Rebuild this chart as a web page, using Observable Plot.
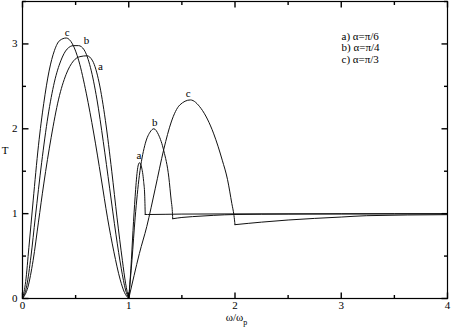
<!DOCTYPE html>
<html><head><meta charset="utf-8">
<script src="https://cdn.jsdelivr.net/npm/d3@7"></script>
<script src="https://cdn.jsdelivr.net/npm/@observablehq/plot@0.6"></script>
<style>body{margin:0;background:#fff}#chart svg, #chart svg text{font-family:"Liberation Serif","DejaVu Serif","Times New Roman",serif}</style>
</head><body><div id="chart"></div>
<script>
// ---- data ----
const xTickLabels = [0, 1, 2, 3, 4];
const yTickLabels = [0, 1, 2, 3];
const xMajor = [0, 1, 2, 3, 4];
const xMinor = [0.5, 1.5, 2.5, 3.5];
const yMajor = [0, 1, 2, 3];
const yMinor = [0.5, 1.5, 2.5, 3.5];
const legendLabels = ["a) α=π/6", "b) α=π/4", "c) α=π/3"];

// curve a (alpha = pi/6)
const aOmega = [0, 0.05, 0.1, 0.15, 0.2, 0.27, 0.34, 0.41, 0.48, 0.54, 0.607, 0.66, 0.72, 0.78, 0.84, 0.89, 0.94, 0.97, 1.0,
                1.0, 1.02, 1.04, 1.06, 1.08, 1.10, 1.12, 1.14, 1.15, 1.155,
                1.155, 1.2, 1.5, 2, 3, 4];
const aT     = [0, 0.13, 0.45, 0.9, 1.35, 1.9, 2.35, 2.64, 2.8, 2.85, 2.86, 2.8, 2.55, 2.1, 1.5, 0.95, 0.45, 0.18, 0,
                0, 0.35, 0.8, 1.2, 1.5, 1.60, 1.55, 1.38, 1.22, 0.99,
                0.99, 0.99, 0.995, 0.997, 0.998, 0.999];
const aSeg   = [1,1,1,1,1,1,1,1,1,1,1,1,1,1,1,1,1,1,1, 2,2,2,2,2,2,2,2,2,2, 3,3,3,3,3,3];

// curve b (alpha = pi/4)
const bOmega = [0, 0.04, 0.08, 0.12, 0.18, 0.24, 0.3, 0.36, 0.42, 0.48, 0.528, 0.58, 0.64, 0.7, 0.76, 0.82, 0.88, 0.93, 0.97, 1.0,
                1.0, 1.03, 1.06, 1.1, 1.15, 1.2, 1.236, 1.28, 1.33, 1.377, 1.40, 1.409, 1.414,
                1.414, 1.5, 1.6, 1.8, 2.0, 2.5, 3, 4];
const bT     = [0, 0.15, 0.5, 0.95, 1.6, 2.15, 2.55, 2.8, 2.94, 2.98, 2.98, 2.93, 2.72, 2.35, 1.85, 1.3, 0.75, 0.35, 0.1, 0,
                0, 0.45, 0.95, 1.45, 1.8, 1.96, 2.0, 1.93, 1.74, 1.43, 1.15, 1.05, 0.94,
                0.94, 0.955, 0.965, 0.98, 0.99, 0.995, 0.997, 0.998];
const bSeg   = [1,1,1,1,1,1,1,1,1,1,1,1,1,1,1,1,1,1,1,1, 2,2,2,2,2,2,2,2,2,2,2,2,2, 3,3,3,3,3,3,3,3];

// curve c (alpha = pi/3)
const cOmega = [0, 0.03, 0.06, 0.1, 0.15, 0.2, 0.25, 0.3, 0.35, 0.412, 0.47, 0.53, 0.6, 0.67, 0.74, 0.8, 0.86, 0.92, 0.96, 1.0,
                1.0, 1.05, 1.1, 1.17, 1.25, 1.33, 1.4, 1.48, 1.58, 1.68, 1.8, 1.88, 1.93, 1.97, 1.99, 2.0,
                2.0, 2.25, 2.5, 3.0, 3.24, 4];
const cT     = [0, 0.2, 0.6, 1.15, 1.8, 2.3, 2.68, 2.92, 3.04, 3.07, 3.0, 2.8, 2.42, 1.95, 1.42, 0.95, 0.55, 0.22, 0.07, 0,
                0, 0.27, 0.53, 0.85, 1.3, 1.76, 2.08, 2.28, 2.34, 2.24, 1.94, 1.63, 1.40, 1.12, 0.98, 0.87,
                0.87, 0.9, 0.925, 0.96, 0.976, 0.988];
const cSeg   = [1,1,1,1,1,1,1,1,1,1,1,1,1,1,1,1,1,1,1,1, 2,2,2,2,2,2,2,2,2,2,2,2,2,2,2,2, 3,3,3,3,3,3];

// curve-label anchors (omega, T)
const curveLabelText = ["c", "b", "a", "a", "b", "c"];
const curveLabelOmega = [0.421, 0.602, 0.734, 1.095, 1.245, 1.56];
const curveLabelT = [3.13, 3.04, 2.74, 1.69, 2.07, 2.415];

// ---- build tables ----
function rows(name, Ws, Ts, Ss) { return Ws.map((w, i) => ({series: name, key: name + Ss[i], w, t: Ts[i]})); }
const data = [...rows("a", aOmega, aT, aSeg), ...rows("b", bOmega, bT, bSeg), ...rows("c", cOmega, cT, cSeg)];
const labels = curveLabelText.map((s, i) => ({s, w: curveLabelOmega[i], t: curveLabelT[i]}));

const WIDTH = 451, HEIGHT = 331, mL = 22, mR = 4, mT = 1, mB = 33;
const plotW = WIDTH - mL - mR, plotH = HEIGHT - mT - mB;
const xMax = 4, yMax = 3.5;
const major = 6, minor = 3.5;
const dxMaj = major * xMax / plotW, dxMin = minor * xMax / plotW;
const dyMaj = major * yMax / plotH, dyMin = minor * yMax / plotH;
const font = "'Liberation Serif','DejaVu Serif','Times New Roman',serif";

// inward tick segments on all four sides, from the tick arrays
const tickSegs = [
  ...xMajor.map(v => ({x1: v, x2: v, y1: 0, y2: dyMaj})),
  ...xMinor.map(v => ({x1: v, x2: v, y1: 0, y2: dyMin})),
  ...xMajor.map(v => ({x1: v, x2: v, y1: yMax, y2: yMax - dyMaj})),
  ...xMinor.map(v => ({x1: v, x2: v, y1: yMax, y2: yMax - dyMin})),
  ...yMajor.map(v => ({x1: 0, x2: dxMaj, y1: v, y2: v})),
  ...yMinor.map(v => ({x1: 0, x2: dxMin, y1: v, y2: v})),
  ...yMajor.map(v => ({x1: xMax, x2: xMax - dxMaj, y1: v, y2: v})),
  ...yMinor.map(v => ({x1: xMax, x2: xMax - dxMin, y1: v, y2: v}))
];

const chart = Plot.plot({
  width: WIDTH, height: HEIGHT,
  marginLeft: mL, marginRight: mR, marginTop: mT, marginBottom: mB,
  style: {fontFamily: font, fontSize: "11px", background: "#fff", color: "#000"},
  x: {domain: [0, xMax], axis: null},
  y: {domain: [0, yMax], axis: null},
  marks: [
    Plot.line(data, {x: "w", y: "t", z: "key", curve: "monotone-x", stroke: "#111", strokeWidth: 1}),
    Plot.text(labels, {x: "w", y: "t", text: "s", fontSize: 11, fill: "#000"}),
    Plot.frame({stroke: "#000", strokeWidth: 1.2}),
    Plot.link(tickSegs, {x1: "x1", x2: "x2", y1: "y1", y2: "y2", stroke: "#000", strokeWidth: 1.4}),
    Plot.axisX(xTickLabels, {tickSize: 0, tickPadding: 3, fontSize: 11, label: null, tickFormat: d => String(d)}),
    Plot.axisY(yTickLabels, {tickSize: 0, tickPadding: 5, fontSize: 11, label: null, tickFormat: d => String(d)}),
    Plot.text([legendLabels.join("\n")], {frameAnchor: "top-right", dx: -106, dy: 30, textAnchor: "start", lineAnchor: "top", lineHeight: 1.05, fontSize: 11, fill: "#000"})
  ]
});
document.getElementById("chart").appendChild(chart);

// axis titles (T and omega/omega_p with subscript)
const svg = d3.select(chart);
svg.append("text").attr("x", 5).attr("y", mT + plotH / 2 + 4).attr("text-anchor", "middle")
  .attr("font-size", 11).style("font-family", font).text("T");
const xl = svg.append("text").attr("x", mL + plotW / 2 + 2).attr("y", 321).attr("text-anchor", "middle")
  .attr("font-size", 11).style("font-family", font);
xl.append("tspan").text("ω/ω");
xl.append("tspan").attr("font-size", 8).attr("dy", 4).text("p");
</script></body></html>
